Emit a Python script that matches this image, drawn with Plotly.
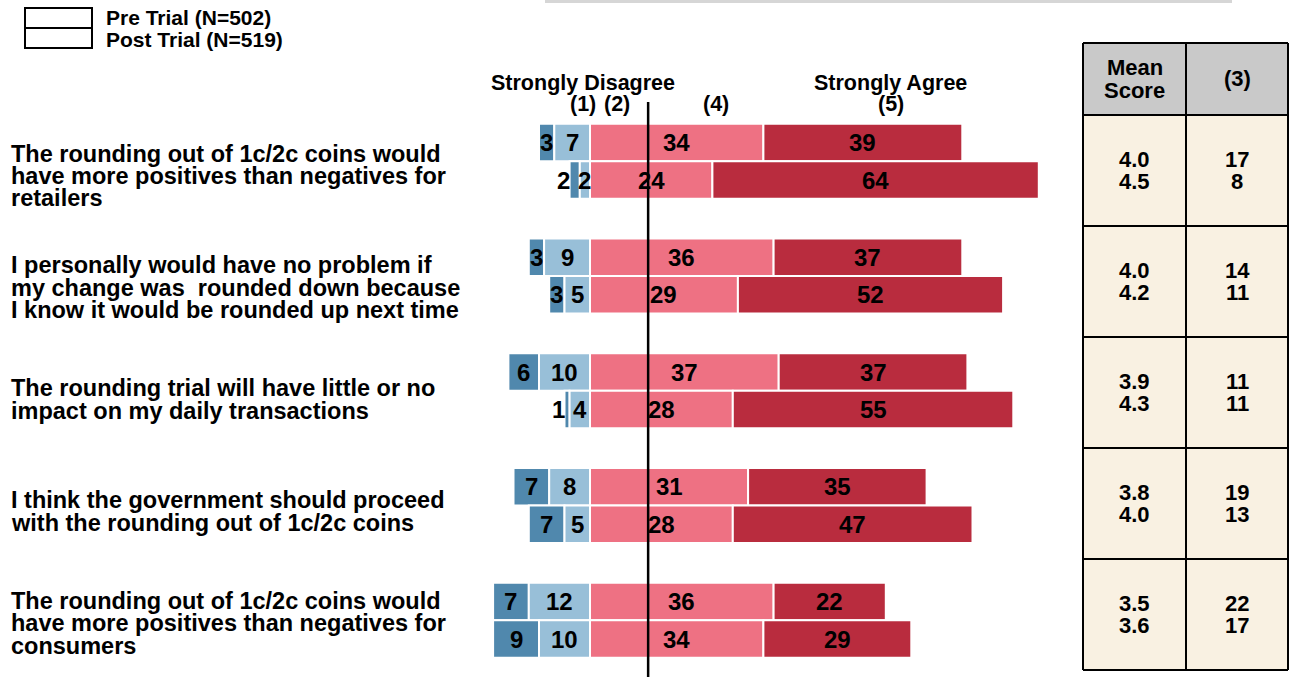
import plotly.graph_objects as go

W, H = 1290, 677

# Survey statements (one entry per line of the wrapped label)
statements = [
    ["The rounding out of 1c/2c coins would", "have more positives than negatives for", "retailers"],
    ["I personally would have no problem if", "my change was  rounded down because", "I know it would be rounded up next time"],
    ["The rounding trial will have little or no", "impact on my daily transactions"],
    ["I think the government should proceed", "with the rounding out of 1c/2c coins"],
    ["The rounding out of 1c/2c coins would", "have more positives than negatives for", "consumers"],
]

# Response shares (%) - pre trial
pre_sd = [3, 3, 6, 7, 7]
pre_d = [7, 9, 10, 8, 12]
pre_a = [34, 36, 37, 31, 36]
pre_sa = [39, 37, 37, 35, 22]
# Response shares (%) - post trial
post_sd = [2, 3, 1, 7, 9]
post_d = [2, 5, 4, 5, 10]
post_a = [24, 29, 28, 28, 34]
post_sa = [64, 52, 55, 47, 29]
# Neutral (3) shares and mean scores
pre_neutral = [17, 14, 11, 19, 22]
post_neutral = [8, 11, 11, 13, 17]
pre_mean = [4.0, 4.0, 3.9, 3.8, 3.5]
post_mean = [4.5, 4.2, 4.3, 4.0, 3.6]

legend_labels = ["Pre Trial (N=502)", "Post Trial (N=519)"]
end_labels = ["Strongly Disagree", "Strongly Agree"]
scale_labels = ["(1)", "(2)", "(4)", "(5)"]
table_headers = [["Mean", "Score"], ["(3)"]]
ref_line_x = 11.4

# Colours
C_SD = "#5088ad"
C_D = "#98bfd8"
C_A = "#ee7183"
C_SA = "#b92c3e"
C_CREAM = "#f9f1e2"
C_GREY = "#c9c9c9"
FONT = "Arial, Liberation Sans, sans-serif"

# Layout geometry (pixels)
ZERO_PX, PX_PER_PCT = 590.0, 5.1
PLOT_L, PLOT_R = 480.0, 1075.0
ROW0_PX, ROW_STEP_PX = 142.5, 114.75
POST_OFF = 37.5 / ROW_STEP_PX
BAR_W = 37.5 / ROW_STEP_PX


def px(x):
    return x / W


def py(y):
    return 1 - y / H


def paper_text(x, y, text, font, xanchor="center"):
    return dict(x=px(x), y=py(y), xref="paper", yref="paper", text=text,
                showarrow=False, xanchor=xanchor, yanchor="middle", font=font)


n = len(statements)
y_pre = [float(i) for i in range(n)]
y_post = [i + POST_OFF for i in range(n)]

fig = go.Figure()


def add_bars(y, sd, d, a, sa):
    neg_d_base = [-v for v in d]
    neg_sd_base = [-(v + w) for v, w in zip(d, sd)]
    specs = [
        (sd, neg_sd_base, C_SD),
        (d, neg_d_base, C_D),
        (a, [0] * n, C_A),
        (sa, a, C_SA),
    ]
    for vals, base, col in specs:
        fig.add_trace(go.Bar(
            orientation="h", y=y, x=vals, base=base, width=BAR_W,
            marker=dict(color=col, line=dict(color="white", width=2)),
            showlegend=False, hoverinfo="skip",
        ))


add_bars(y_pre, pre_sd, pre_d, pre_a, pre_sa)
add_bars(y_post, post_sd, post_d, post_a, post_sa)

annotations = []
lbl_font = dict(family=FONT, size=24, color="black", weight="bold")


def bar_text(x, y, text, **kw):
    d = dict(x=x, y=y, xref="x", yref="y", text=text, showarrow=False,
             xanchor="center", yanchor="middle", font=lbl_font)
    d.update(kw)
    return d


def add_bar_labels(y, sd, d, a, sa):
    for i in range(n):
        # strongly disagree: a very thin bar gets its label beside it
        if sd[i] <= 2:
            annotations.append(bar_text(-(d[i] + sd[i]), y[i], str(sd[i]),
                                        xanchor="right", xshift=2))
        else:
            annotations.append(bar_text(-(d[i] + sd[i] / 2), y[i], str(sd[i])))
        annotations.append(bar_text(-d[i] / 2, y[i], str(d[i])))
        annotations.append(bar_text(a[i] / 2, y[i], str(a[i])))
        annotations.append(bar_text(a[i] + sa[i] / 2, y[i], str(sa[i])))


add_bar_labels(y_pre, pre_sd, pre_d, pre_a, pre_sa)
add_bar_labels(y_post, post_sd, post_d, post_a, post_sa)

# Statement text on the left
stmt_font = dict(family=FONT, size=23.5, color="black", weight="bold")
for i, lines in enumerate(statements):
    center = 176 + 111.75 * i
    k = len(lines)
    for j, line in enumerate(lines):
        yy = center + (j - (k - 1) / 2) * 22.5
        annotations.append(paper_text(9, yy, line, stmt_font, xanchor="left"))

# Scale headings
head_font = dict(family=FONT, size=21.5, color="black", weight="bold")
for txt, xx in zip(end_labels, [583, 890]):
    annotations.append(paper_text(xx, 83, txt, head_font))
for txt, xx in zip(scale_labels, [583, 617, 716, 891]):
    annotations.append(paper_text(xx, 104, txt, head_font))

# Legend text
leg_font = dict(family=FONT, size=21, color="black", weight="bold")
for txt, yy in zip(legend_labels, [18, 39]):
    annotations.append(paper_text(104, yy, txt, leg_font, xanchor="left"))

shapes = []
# Thin grey band along the top edge
shapes.append(dict(type="rect", xref="paper", yref="paper", x0=px(545), x1=px(1232),
                   y0=py(3), y1=py(0), fillcolor="#d6d6d6", line=dict(width=0)))

# Legend boxes
shapes.append(dict(type="rect", xref="paper", yref="paper", x0=px(25), x1=px(92),
                   y0=py(48), y1=py(8), fillcolor="white", line=dict(color="black", width=2)))
shapes.append(dict(type="line", xref="paper", yref="paper", x0=px(25), x1=px(92),
                   y0=py(28), y1=py(28), line=dict(color="black", width=2)))

# Reference line
shapes.append(dict(type="line", xref="x", yref="paper", x0=ref_line_x, x1=ref_line_x,
                   y0=0, y1=py(102), line=dict(color="black", width=2.5), layer="above"))

# Summary table on the right
T_L, T_M, T_R = 1083, 1186, 1288
T_TOP, T_HEAD = 43, 115
ROW_H = 111
T_BOT = T_HEAD + ROW_H * n
shapes.append(dict(type="rect", xref="paper", yref="paper", x0=px(T_L), x1=px(T_R),
                   y0=py(T_HEAD), y1=py(T_TOP), fillcolor=C_GREY, line=dict(width=0)))
shapes.append(dict(type="rect", xref="paper", yref="paper", x0=px(T_L), x1=px(T_R),
                   y0=py(T_BOT), y1=py(T_HEAD), fillcolor=C_CREAM, line=dict(width=0)))
for r in range(n + 1):
    yy = T_HEAD + ROW_H * r
    shapes.append(dict(type="line", xref="paper", yref="paper", x0=px(T_L), x1=px(T_R),
                       y0=py(yy), y1=py(yy), line=dict(color="black", width=2)))
shapes.append(dict(type="line", xref="paper", yref="paper", x0=px(T_L), x1=px(T_R),
                   y0=py(T_TOP), y1=py(T_TOP), line=dict(color="black", width=2)))
for xx in (T_L, T_M, T_R):
    shapes.append(dict(type="line", xref="paper", yref="paper", x0=px(xx), x1=px(xx),
                       y0=py(T_BOT), y1=py(T_TOP), line=dict(color="black", width=2)))

tab_font = dict(family=FONT, size=22, color="black", weight="bold")
col_x = [(T_L + T_M) / 2, (T_M + T_R) / 2]
hc = (T_TOP + T_HEAD) / 2
for cx, lines in zip(col_x, table_headers):
    k = len(lines)
    for j, line in enumerate(lines):
        yy = hc + (j - (k - 1) / 2) * 22.5
        annotations.append(paper_text(cx, yy, line, tab_font))
for i in range(n):
    rc = T_HEAD + ROW_H * (i + 0.5)
    cells = [(f"{pre_mean[i]:.1f}", f"{post_mean[i]:.1f}"),
             (str(pre_neutral[i]), str(post_neutral[i]))]
    for cx, (a_txt, b_txt) in zip(col_x, cells):
        annotations.append(paper_text(cx, rc - 11, a_txt, tab_font))
        annotations.append(paper_text(cx, rc + 11, b_txt, tab_font))

x_lo = (PLOT_L - ZERO_PX) / PX_PER_PCT
x_hi = (PLOT_R - ZERO_PX) / PX_PER_PCT
y_top = -ROW0_PX / ROW_STEP_PX
y_bot = (H - ROW0_PX) / ROW_STEP_PX

fig.update_layout(
    width=W, height=H,
    margin=dict(l=0, r=0, t=0, b=0),
    paper_bgcolor="white", plot_bgcolor="white",
    barmode="overlay",
    showlegend=False,
    xaxis=dict(domain=[px(PLOT_L), px(PLOT_R)], range=[x_lo, x_hi], visible=False,
               fixedrange=True),
    yaxis=dict(domain=[0, 1], range=[y_bot, y_top], visible=False, fixedrange=True),
    annotations=annotations,
    shapes=shapes,
)

fig.write_html("out.html", config={"displayModeBar": False})
